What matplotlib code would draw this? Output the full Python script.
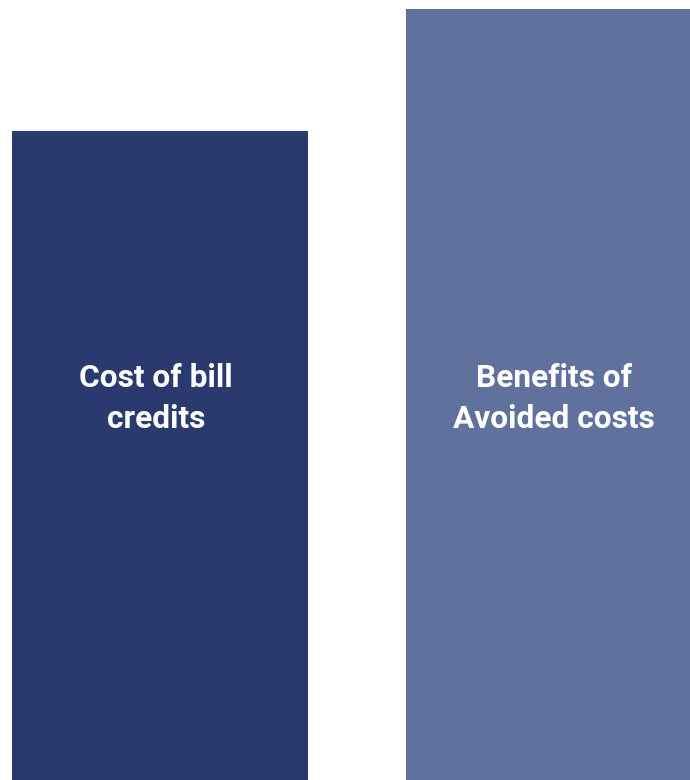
import matplotlib
matplotlib.use('Agg')
from matplotlib import pyplot as plt

labels = ['Cost of bill\ncredits', 'Benefits of\nAvoided costs']
values = [84.2, 100.0]
colors = ['#2b3a6e', '#5f719c']

fig = plt.figure(figsize=(6.9, 7.8), dpi=100)
ax = fig.add_axes([0, 0, 1, 1])

x = range(len(values))
ax.bar(x, values, width=0.75, color=colors)
for i, lab in enumerate(labels):
    ax.text(i - 0.0095 * (i == 0), 49.5, lab, ha='center', va='center', color='white',
            fontsize=22.8, fontweight='bold', family='Roboto', linespacing=1.47)

ax.set_xlim(-0.4055, 1.3458)
ax.set_ylim(0, 101.17)
ax.axis('off')

fig.savefig('out.png', dpi=100)
